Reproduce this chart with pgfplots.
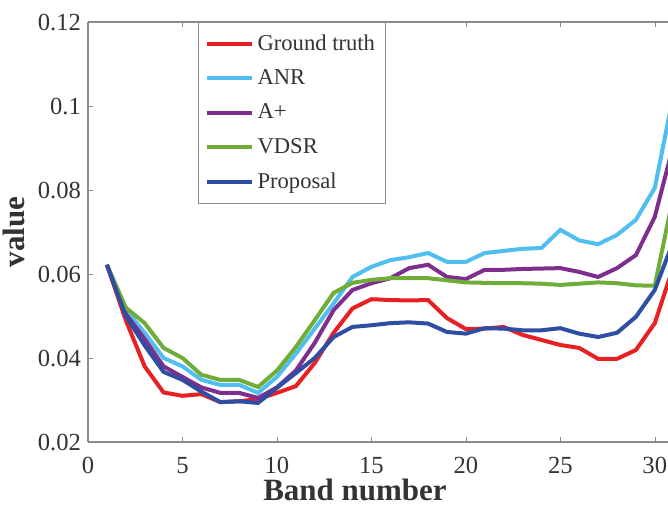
\documentclass[border=0pt]{standalone}
\usepackage{pgfplots}
\pgfplotsset{compat=1.18}
\usepackage{fontspec}
\setmainfont{Liberation Serif}

\definecolor{cGT}{RGB}{232,32,36}
\definecolor{cANR}{RGB}{80,190,238}
\definecolor{cAP}{RGB}{126,47,142}
\definecolor{cVD}{RGB}{112,172,56}
\definecolor{cPR}{RGB}{46,78,164}

\begin{document}
\begin{tikzpicture}
\begin{axis}[
  scale only axis,
  width=290pt, height=210pt,
  xmin=0, xmax=30.7,
  ymin=0.02, ymax=0.12,
  axis x line=box, axis y line=left,
  y axis line style={-},
  axis line style={black!45, line width=0.6pt},
  tick align=inside,
  major tick length=2.5pt,
  tick style={black!45},
  xtick={0,5,...,30},
  ytick={0.02,0.04,0.06,0.08,0.1,0.12},
  scaled y ticks=false,
  yticklabel style={/pgf/number format/fixed, /pgf/number format/precision=2},
  xticklabel style={yshift=-4pt},
  /pgf/number format/assume math mode=true,
  ticklabel style={font=\fontsize{12.3}{14}\selectfont, text=black!80},
  xlabel={\textbf{Band number}},
  ylabel={\textbf{value}},
  label style={font=\fontsize{15.5}{17}\selectfont, text=black!80},
  xlabel style={yshift=4pt, xshift=-11.5pt},
  ylabel style={yshift=-0.5pt},
  legend cell align=left,
  legend style={at={(0.19,1)}, anchor=north west, draw=black!45,
    font=\fontsize{11.3}{13}\selectfont, text=black!80,
    row sep=4.2pt, inner xsep=3pt, inner ysep=4pt},
  legend image code/.code={\draw[#1] (0pt,0pt) -- (22.5pt,0pt);},
  every axis plot/.append style={line width=2pt},
]
% Ground truth
\addplot[cGT] coordinates {
(1,0.0622) (2,0.049) (3,0.038) (4,0.0318) (5,0.031) (6,0.0314) (7,0.0295) (8,0.0297)
(9,0.0302) (10,0.0317) (11,0.0333) (12,0.0388) (13,0.046) (14,0.0518) (15,0.054) (16,0.0538)
(17,0.0537) (18,0.0538) (19,0.0495) (20,0.0469) (21,0.047) (22,0.0474) (23,0.0455) (24,0.0443)
(25,0.0431) (26,0.0424) (27,0.0398) (28,0.0398) (29,0.0419) (30,0.0483) (31,0.062)};
% ANR
\addplot[cANR] coordinates {
(1,0.0622) (2,0.0515) (3,0.046) (4,0.040) (5,0.038) (6,0.0348) (7,0.0336) (8,0.0336)
(9,0.0317) (10,0.0355) (11,0.041) (12,0.047) (13,0.053) (14,0.0593) (15,0.0617) (16,0.0633)
(17,0.064) (18,0.065) (19,0.0629) (20,0.0629) (21,0.065) (22,0.0655) (23,0.066) (24,0.0662)
(25,0.0705) (26,0.068) (27,0.0671) (28,0.0693) (29,0.0729) (30,0.0805) (31,0.103)};
% A+
\addplot[cAP] coordinates {
(1,0.0622) (2,0.0505) (3,0.0445) (4,0.038) (5,0.0355) (6,0.033) (7,0.0317) (8,0.0317)
(9,0.0305) (10,0.033) (11,0.037) (12,0.0436) (13,0.0514) (14,0.0562) (15,0.0578) (16,0.059)
(17,0.0614) (18,0.0622) (19,0.0593) (20,0.0588) (21,0.061) (22,0.061) (23,0.0612) (24,0.0613)
(25,0.0614) (26,0.0605) (27,0.0593) (28,0.0614) (29,0.0645) (30,0.0736) (31,0.091)};
% VDSR
\addplot[cVD] coordinates {
(1,0.0622) (2,0.052) (3,0.0483) (4,0.0424) (5,0.040) (6,0.036) (7,0.0348) (8,0.0348)
(9,0.0331) (10,0.037) (11,0.0426) (12,0.049) (13,0.0555) (14,0.0579) (15,0.0586) (16,0.059)
(17,0.059) (18,0.059) (19,0.0585) (20,0.058) (21,0.0579) (22,0.0578) (23,0.0578) (24,0.0577)
(25,0.0574) (26,0.0577) (27,0.058) (28,0.0578) (29,0.0573) (30,0.0572) (31,0.079)};
% Proposal
\addplot[cPR] coordinates {
(1,0.0622) (2,0.050) (3,0.043) (4,0.0367) (5,0.0348) (6,0.032) (7,0.0295) (8,0.0297)
(9,0.0293) (10,0.0329) (11,0.0364) (12,0.040) (13,0.045) (14,0.0474) (15,0.0478) (16,0.0483)
(17,0.0485) (18,0.0482) (19,0.0462) (20,0.0458) (21,0.0471) (22,0.047) (23,0.0466) (24,0.0466)
(25,0.0471) (26,0.0458) (27,0.045) (28,0.046) (29,0.0498) (30,0.0562) (31,0.068)};
\legend{Ground truth, ANR, A+, VDSR, Proposal}
\end{axis}
\pgfresetboundingbox
\useasboundingbox (current axis.south west) ++(-44pt,-31.5pt) rectangle ([yshift=11pt]current axis.north east);
\end{tikzpicture}
\end{document}
